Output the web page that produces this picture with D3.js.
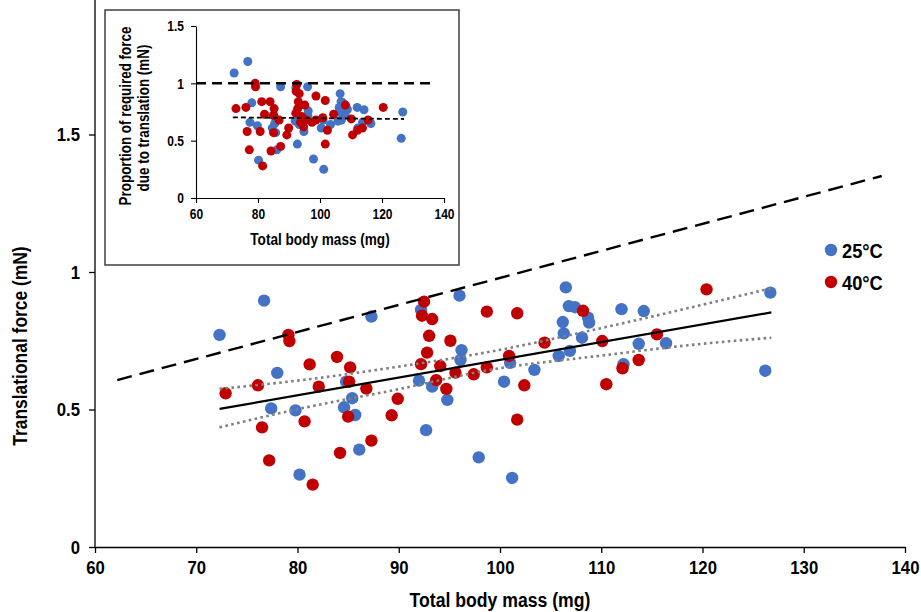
<!DOCTYPE html>
<html>
<head>
<meta charset="utf-8">
<script src="https://cdn.jsdelivr.net/npm/d3@7"></script>
<style>
  body { margin: 0; background: #fff; }
  svg { display: block; font-family: "Liberation Sans Narrow", "Arial Narrow", "Liberation Sans", Arial, sans-serif; font-weight: bold; }
</style>
</head>
<body>
<div id="viz"></div>
<script>
// body mass (mg), translational force (mN)
var blue25 = [
  [72.3, 0.771], [76.7, 0.896], [78.0, 0.633], [77.4, 0.504], [79.8, 0.497], [80.2, 0.263],
  [84.6, 0.508], [84.8, 0.601], [85.4, 0.541], [85.7, 0.480], [86.1, 0.354], [87.3, 0.838],
  [92.2, 0.862], [92.0, 0.605], [93.3, 0.583], [94.8, 0.535], [92.7, 0.425], [96.0, 0.914],
  [96.2, 0.716], [96.1, 0.680], [97.9, 0.326], [101.0, 0.670], [106.5, 0.944], [106.8, 0.876],
  [107.4, 0.872], [108.7, 0.834], [108.8, 0.816], [106.2, 0.818], [106.3, 0.777], [108.1, 0.761],
  [112.0, 0.865], [105.8, 0.695], [106.9, 0.713], [103.4, 0.644], [100.4, 0.601], [101.2, 0.251],
  [112.2, 0.665], [113.7, 0.739], [114.2, 0.858], [126.7, 0.925], [116.4, 0.741], [126.2, 0.641]
];
var red40 = [
  [72.9, 0.559], [76.1, 0.588], [76.5, 0.435], [77.2, 0.315], [79.1, 0.771], [79.2, 0.749],
  [80.7, 0.457], [81.2, 0.664], [81.5, 0.227], [82.1, 0.583], [83.9, 0.691], [84.2, 0.342],
  [85.2, 0.653], [85.1, 0.601], [85.0, 0.474], [86.8, 0.576], [87.3, 0.387], [89.9, 0.539],
  [89.3, 0.479], [92.5, 0.892], [92.3, 0.841], [93.3, 0.829], [93.0, 0.768], [92.8, 0.707],
  [92.2, 0.665], [94.1, 0.658], [93.7, 0.607], [94.7, 0.575], [95.1, 0.750], [95.6, 0.634],
  [97.4, 0.628], [98.7, 0.653], [98.7, 0.856], [101.7, 0.850], [108.2, 0.859], [104.4, 0.743],
  [110.1, 0.749], [100.9, 0.695], [102.4, 0.588], [101.7, 0.463], [110.5, 0.592], [112.1, 0.650],
  [113.7, 0.680], [120.4, 0.937], [115.5, 0.773]
];

// inset: proportion of required force due to translation
var insetBlue = [
  [72.3, 1.09], [76.7, 1.19], [78.0, 0.83], [77.4, 0.66], [79.8, 0.63], [80.2, 0.33],
  [84.6, 0.61], [84.8, 0.72], [85.4, 0.65], [85.7, 0.57], [86.1, 0.42], [87.3, 0.97],
  [92.2, 0.96], [92.0, 0.67], [93.3, 0.64], [94.8, 0.58], [92.7, 0.47], [96.0, 0.97],
  [96.2, 0.76], [96.1, 0.72], [97.9, 0.34], [101.0, 0.68], [106.5, 0.91], [106.8, 0.84],
  [107.4, 0.83], [108.7, 0.78], [108.8, 0.77], [106.2, 0.79], [106.3, 0.75], [108.1, 0.72],
  [112.0, 0.79], [105.8, 0.67], [106.9, 0.68], [103.4, 0.64], [100.4, 0.61], [101.2, 0.25],
  [112.2, 0.61], [113.7, 0.66], [114.2, 0.77], [126.7, 0.75], [116.4, 0.65], [126.2, 0.52]
];
var insetRed = [
  [72.9, 0.78], [76.1, 0.79], [76.5, 0.58], [77.2, 0.42], [79.1, 1.00], [79.2, 0.97],
  [80.7, 0.58], [81.2, 0.84], [81.5, 0.28], [82.1, 0.73], [83.9, 0.84], [84.2, 0.41],
  [85.2, 0.78], [85.1, 0.72], [85.0, 0.57], [86.8, 0.68], [87.3, 0.45], [89.9, 0.61],
  [89.3, 0.55], [92.5, 0.99], [92.3, 0.93], [93.3, 0.91], [93.0, 0.84], [92.8, 0.78],
  [92.2, 0.74], [94.1, 0.71], [93.7, 0.66], [94.7, 0.62], [95.1, 0.81], [95.6, 0.68],
  [97.4, 0.66], [98.7, 0.68], [98.7, 0.89], [101.7, 0.85], [108.2, 0.81], [104.4, 0.73],
  [110.1, 0.69], [100.9, 0.70], [102.4, 0.59], [101.7, 0.47], [110.5, 0.55], [112.1, 0.59],
  [113.7, 0.61], [120.4, 0.79], [115.5, 0.68]
];

// lines
var requiredLine = [[62.2, 0.607], [137.7, 1.349]];
var fitLine = [[72.3, 0.502], [126.8, 0.853]];
var ciMass = [72.3, 80, 90, 99, 110, 120, 126.8];
var ciUpper = [0.575, 0.605, 0.656, 0.710, 0.796, 0.881, 0.941];
var ciLower = [0.435, 0.501, 0.574, 0.644, 0.696, 0.739, 0.761];
var insetUnity = [[60, 1], [136, 1]];
var insetFit = [[71.9, 0.703], [127.1, 0.689]];

var xTicks = [60, 70, 80, 90, 100, 110, 120, 130, 140];
var yTicks = [0, 0.5, 1, 1.5];
var insetXTicks = [60, 80, 100, 120, 140];
var insetYTicks = [0, 0.5, 1, 1.5];
var legendLabels = ['25°C', '40°C'];

var blueCol = '#4472C4', redCol = '#C00000';
var W = 921, H = 612;

var svg = d3.select('#viz').append('svg').attr('width', W).attr('height', H);

function fmt(d) { return String(d); }

// no narrow font installed, so squeeze the text horizontally
function squeeze(sel, k) {
  sel.each(function() {
    var t = d3.select(this);
    var tx = +t.attr('x') || 0, ty = +t.attr('y') || 0;
    var base = t.attr('transform') || '';
    t.attr('x', 0).attr('y', 0)
      .attr('transform', base + ' translate(' + tx + ',' + ty + ') scale(' + k + ',1)');
  });
}

// ---- main chart ----
var x = d3.scaleLinear().domain([60, 140]).range([95, 905]);
var y = d3.scaleLinear().domain([0, 1.5]).range([547, 134.5]);

var main = svg.append('g');

var xAxis = main.append('g').attr('transform', 'translate(0,' + y(0) + ')')
  .call(d3.axisBottom(x).tickValues(xTicks).tickFormat(fmt).tickSizeOuter(0).tickSizeInner(6).tickPadding(7));
var yAxis = main.append('g').attr('transform', 'translate(' + x(60) + ',0)')
  .call(d3.axisLeft(y).tickValues(yTicks).tickFormat(fmt).tickSizeOuter(0).tickSizeInner(6).tickPadding(9));
yAxis.select('.domain').remove();
main.append('line').attr('x1', x(60)).attr('x2', x(60)).attr('y1', y(0)).attr('y2', 0)
  .attr('stroke', '#000').attr('stroke-width', 1.3);

[xAxis, yAxis].forEach(function(a) {
  a.selectAll('path, line').attr('stroke', '#000').attr('stroke-width', 1.3);
  a.selectAll('text').attr('font-size', 19).attr('fill', '#000').attr('font-family', null)
    .call(squeeze, 0.88);
});

main.append('text').attr('x', 500).attr('y', 607).attr('text-anchor', 'middle')
  .attr('font-size', 21).text('Total body mass (mg)').call(squeeze, 0.84);
main.append('text').attr('transform', 'translate(27,346) rotate(-90)').attr('text-anchor', 'middle')
  .attr('font-size', 21).text('Translational force (mN)').call(squeeze, 0.83);

function drawDots(g, data, col, sx, sy, r) {
  g.append('g').selectAll('circle').data(data).enter().append('circle')
    .attr('cx', function(d) { return sx(d[0]); })
    .attr('cy', function(d) { return sy(d[1]); })
    .attr('r', r).attr('fill', col);
}
drawDots(main, blue25, blueCol, x, y, 6.2);
drawDots(main, red40, redCol, x, y, 6.2);

var line = d3.line().x(function(d) { return x(d[0]); }).y(function(d) { return y(d[1]); });
var ciLine = d3.line().curve(d3.curveMonotoneX).x(function(d) { return x(d[0]); }).y(function(d) { return y(d[1]); });

main.append('path').datum(requiredLine).attr('d', line).attr('fill', 'none')
  .attr('stroke', '#000').attr('stroke-width', 2.4).attr('stroke-dasharray', '15,8');
main.append('path').datum(ciMass.map(function(m, i) { return [m, ciUpper[i]]; })).attr('d', ciLine)
  .attr('fill', 'none').attr('stroke', '#808080').attr('stroke-width', 2.6).attr('stroke-dasharray', '2.6,3.4');
main.append('path').datum(ciMass.map(function(m, i) { return [m, ciLower[i]]; })).attr('d', ciLine)
  .attr('fill', 'none').attr('stroke', '#808080').attr('stroke-width', 2.6).attr('stroke-dasharray', '2.6,3.4');
main.append('path').datum(fitLine).attr('d', line).attr('fill', 'none')
  .attr('stroke', '#000').attr('stroke-width', 2.2);

// legend
var legend = main.append('g');
legendLabels.forEach(function(lab, i) {
  var ly = 250 + i * 32;
  legend.append('circle').attr('cx', 831).attr('cy', ly).attr('r', 6.2).attr('fill', i === 0 ? blueCol : redCol);
  legend.append('text').attr('x', 842).attr('y', ly).attr('dy', '0.36em').attr('font-size', 21).text(lab)
    .call(squeeze, 0.87);
});

// ---- inset ----
var inset = svg.append('g');
inset.append('rect').attr('x', 105).attr('y', 10).attr('width', 354).attr('height', 255)
  .attr('fill', '#fff').attr('stroke', '#404040').attr('stroke-width', 1.5);

var ix = d3.scaleLinear().domain([60, 140]).range([196, 444]);
var iy = d3.scaleLinear().domain([0, 1.5]).range([198, 26]);

var ixAxis = inset.append('g').attr('transform', 'translate(0,' + iy(0) + ')')
  .call(d3.axisBottom(ix).tickValues(insetXTicks).tickFormat(fmt).tickSizeOuter(0).tickSizeInner(5).tickPadding(5));
var iyAxis = inset.append('g').attr('transform', 'translate(' + ix(60) + ',0)')
  .call(d3.axisLeft(iy).tickValues(insetYTicks).tickFormat(fmt).tickSizeOuter(0).tickSizeInner(5).tickPadding(7));
[ixAxis, iyAxis].forEach(function(a) {
  a.selectAll('path, line').attr('stroke', '#000').attr('stroke-width', 1.1);
  a.selectAll('text').attr('font-size', 15).attr('fill', '#000').attr('font-family', null)
    .call(squeeze, 0.8);
});

inset.append('text').attr('x', 320).attr('y', 245).attr('text-anchor', 'middle')
  .attr('font-size', 17).text('Total body mass (mg)').call(squeeze, 0.8);
inset.append('text').attr('transform', 'translate(131,116) rotate(-90)').attr('text-anchor', 'middle')
  .attr('font-size', 17).text('Proportion of required force').call(squeeze, 0.79);
inset.append('text').attr('transform', 'translate(149,118) rotate(-90)').attr('text-anchor', 'middle')
  .attr('font-size', 17).text('due to translation (mN)').call(squeeze, 0.79);

drawDots(inset, insetBlue, blueCol, ix, iy, 4.5);
drawDots(inset, insetRed, redCol, ix, iy, 4.5);

var iline = d3.line().x(function(d) { return ix(d[0]); }).y(function(d) { return iy(d[1]); });
inset.append('path').datum(insetUnity).attr('d', iline).attr('fill', 'none')
  .attr('stroke', '#000').attr('stroke-width', 2.5).attr('stroke-dasharray', '10,6');
inset.append('path').datum(insetFit).attr('d', iline).attr('fill', 'none')
  .attr('stroke', '#000').attr('stroke-width', 1.8).attr('stroke-dasharray', '5,3');
</script>
</body>
</html>
